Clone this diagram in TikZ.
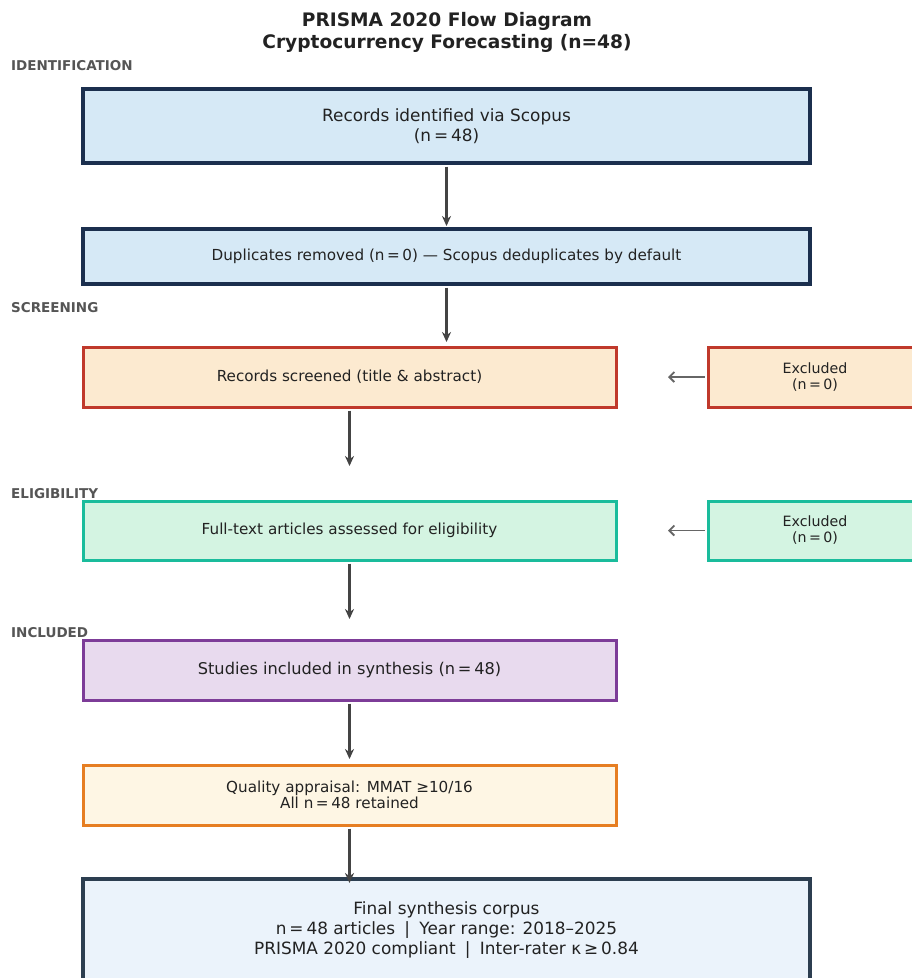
\documentclass[tikz,border=0pt]{standalone}
\usepackage{fontspec}
\setmainfont{DejaVu Sans}
\usetikzlibrary{arrows.meta}
\definecolor{txt}{HTML}{222222}
\definecolor{navy}{HTML}{1B2F4E}
\definecolor{lblue}{HTML}{D6E9F6}
\definecolor{redb}{HTML}{C0392B}
\definecolor{redf}{HTML}{FCEAD0}
\definecolor{teal}{HTML}{1ABC9C}
\definecolor{tealf}{HTML}{D4F4E2}
\definecolor{purb}{HTML}{7D3C98}
\definecolor{purf}{HTML}{E8DAEE}
\definecolor{orab}{HTML}{E67E22}
\definecolor{oraf}{HTML}{FEF6E4}
\definecolor{finb}{HTML}{2C3E50}
\definecolor{finf}{HTML}{EBF3FB}
\definecolor{secg}{HTML}{555555}
\definecolor{arr}{HTML}{444444}
\definecolor{arrg}{HTML}{666666}
\newcommand{\myeq}{\hspace{0.17em}=\hspace{0.17em}}
\newcommand{\myge}{\hspace{0.17em}≥\hspace{0.17em}}
\newcommand{\mysep}{\hspace{0.55em}|\hspace{0.55em}}
\tikzset{
  x=1pt, y=-1pt,
  box/.style={rectangle, inner sep=0pt, align=center, text=txt, line width=3pt},
  bigtxt/.style={font=\fontsize{16.9}{20}\selectfont},
  smtxt/.style={font=\fontsize{15.2}{16.5}\selectfont},
  extxt/.style={font=\fontsize{14.2}{16}\selectfont},
  wide/.style={minimum width=727pt},
  mid/.style={minimum width=533pt},
  exbox/.style={box, extxt, minimum width=214pt, minimum height=60pt},
  sec/.style={anchor=west, inner sep=0pt, text=secg, font=\bfseries\fontsize{13.5}{15}\selectfont},
  flow/.style={draw=arr, line width=2.3pt, -{Stealth[length=10pt,width=9pt]}},
  exarr/.style={draw=arrg, line width=1.8pt, -{Straight Barb[length=5pt,width=10pt]}}
}
\begin{document}
\begin{tikzpicture}
\clip (0,0) rectangle (912,978);
\fill[white] (0,0) rectangle (912,978);

\node[align=center, text=txt, font=\bfseries\fontsize{18.6}{22}\selectfont] (title) at (447,32)
  {PRISMA 2020 Flow Diagram\\Cryptocurrency Forecasting (n=48)};

\node[sec] (s1) at (11,66) {IDENTIFICATION};
\node[sec] (s2) at (11,308) {SCREENING};
\node[sec] (s3) at (11,494) {ELIGIBILITY};
\node[sec] (s4) at (11,633) {INCLUDED};

\node[box, bigtxt, wide, minimum height=74pt, draw=navy, fill=lblue, line width=3.3pt] (b1) at (446.5,126)
  {Records identified via Scopus\\(n\myeq48)};
\node[box, smtxt, wide, minimum height=55pt, draw=navy, fill=lblue, line width=3.3pt] (b2) at (446.5,256.5)
  {Duplicates removed (n\myeq0) — Scopus deduplicates by default};
\node[box, smtxt, mid, minimum height=60pt, draw=redb, fill=redf] (b3) at (349.5,377)
  {Records screened (title \& abstract)};
\node[exbox, draw=redb, fill=redf] (e1) at (815,377) {Excluded\\(n\myeq0)};
\node[box, smtxt, mid, minimum height=59pt, draw=teal, fill=tealf] (b4) at (349.5,530.5)
  {Full-text articles assessed for eligibility};
\node[exbox, minimum height=59pt, draw=teal, fill=tealf] (e2) at (815,530.5) {Excluded\\(n\myeq0)};
\node[box, font=\fontsize{16.2}{19}\selectfont, mid, minimum height=60pt, draw=purb, fill=purf] (b5) at (349.5,670)
  {Studies included in synthesis (n\myeq48)};
\node[box, smtxt, mid, minimum height=60pt, draw=orab, fill=oraf] (b6) at (349.5,795)
  {Quality appraisal: MMAT ≥10/16\\All n\myeq48 retained};
\node[box, bigtxt, wide, minimum height=102pt, draw=finb, fill=finf, line width=3.3pt] (b7) at (446.5,930)
  {Final synthesis corpus\\n\myeq48 articles\mysep Year range: 2018–2025\\PRISMA 2020 compliant\mysep Inter-rater κ\myge0.84};

\coordinate (t12) at (446.5,226);
\coordinate (t23) at (446.5,342);
\coordinate (t34) at (349.5,466);
\coordinate (t45) at (349.5,619);
\coordinate (t56) at (349.5,759);
\coordinate (t67) at (349.5,883);
\coordinate (x1) at (668,377);
\coordinate (x2) at (668,530.5);

\draw[flow, shorten <=2pt] (b1.south) -- (t12);
\draw[flow, shorten <=2pt] (b2.south) -- (t23);
\draw[flow, shorten <=2pt] (b3.south) -- (t34);
\draw[flow, shorten <=2pt] (b4.south) -- (t45);
\draw[flow, shorten <=2pt] (b5.south) -- (t56);
\draw[flow, shorten <=2pt] (b6.south) -- (t67);
\draw[exarr, shorten <=2pt] (e1.west) -- (x1);
\draw[exarr, shorten <=2pt] (e2.west) -- (x2);
\end{tikzpicture}
\end{document}
